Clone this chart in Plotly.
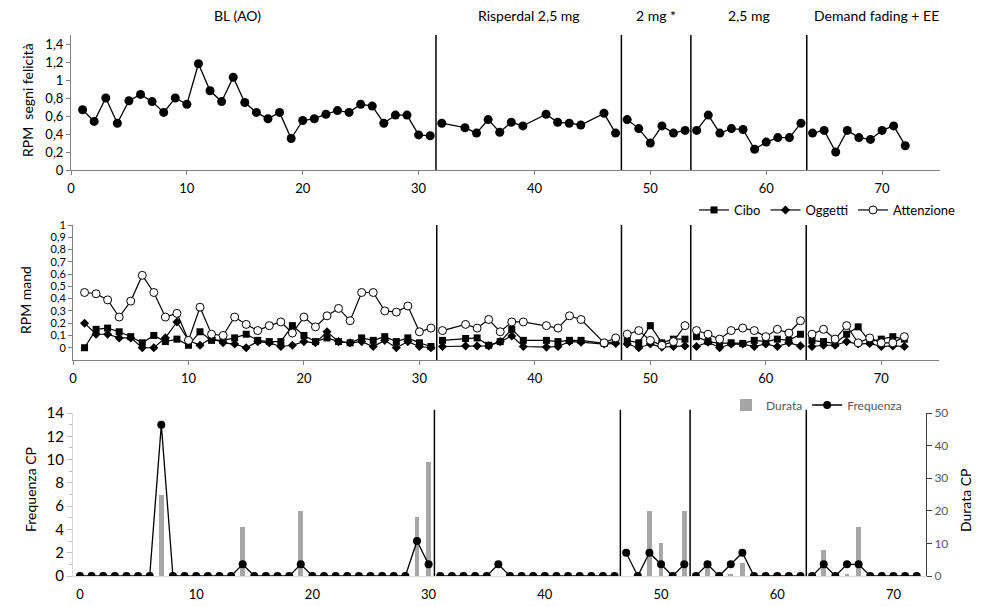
import plotly.graph_objects as go

W, H = 986, 607
OFF = 8  # page body margin of the rendered html
FONT = "Lato"

# ---------------- data ----------------
PHASE_NAMES = ["BL (AO)", "Risperdal 2,5 mg", "2 mg *", "2,5 mg", "Demand fading + EE"]
PHASE_LABEL_X = [14.4, 39.5, 50.5, 58.5, 69.5]
PHASE_BOUNDS = [31.5, 47.5, 53.5, 63.5]        # sessions (top / middle panels)
PHASE_BOUNDS_CP = [30.5, 46.5, 52.5, 62.5]     # index (bottom panel)

sess_bl = [1, 2, 3, 4, 5, 6, 7, 8, 9, 10, 11, 12, 13, 14, 15, 16, 17, 18, 19, 20,
           21, 22, 23, 24, 25, 26, 27, 28, 29, 30, 31]
sess_risp = [32, 34, 35, 36, 37, 38, 39, 41, 42, 43, 44, 46, 47]
sess_2mg = [48, 49, 50, 51, 52, 53]
sess_25 = [54, 55, 56, 57, 58, 59, 60, 61, 62, 63]
sess_df = [64, 65, 66, 67, 68, 69, 70, 71, 72]

fel_bl = [0.67, 0.54, 0.80, 0.52, 0.77, 0.84, 0.76, 0.64, 0.80, 0.73, 1.18, 0.88, 0.76,
          1.03, 0.75, 0.64, 0.57, 0.64, 0.35, 0.55, 0.57, 0.62, 0.66, 0.64, 0.73, 0.71,
          0.52, 0.61, 0.61, 0.39, 0.38]
fel_risp = [0.52, 0.47, 0.41, 0.56, 0.42, 0.53, 0.49, 0.62, 0.53, 0.52, 0.50, 0.63, 0.41]
fel_2mg = [0.56, 0.46, 0.30, 0.49, 0.41, 0.44]
fel_25 = [0.44, 0.61, 0.41, 0.46, 0.45, 0.23, 0.31, 0.36, 0.36, 0.52]
fel_df = [0.41, 0.44, 0.20, 0.44, 0.36, 0.34, 0.44, 0.49, 0.27]

cibo_bl = [0.00, 0.15, 0.16, 0.13, 0.09, 0.04, 0.10, 0.05, 0.07, 0.02, 0.13, 0.06, 0.06,
           0.08, 0.11, 0.06, 0.05, 0.05, 0.18, 0.10, 0.05, 0.08, 0.05, 0.04, 0.08, 0.06,
           0.09, 0.05, 0.08, 0.04, 0.01]
cibo_risp = [0.06, 0.075, 0.08, 0.02, 0.05, 0.15, 0.06, 0.06, 0.05, 0.06, 0.06, 0.035, 0.05]
cibo_2mg = [0.06, 0.04, 0.18, 0.04, 0.07, 0.07]
cibo_25 = [0.09, 0.05, 0.035, 0.04, 0.035, 0.06, 0.05, 0.07, 0.06, 0.11]
cibo_df = [0.06, 0.05, 0.035, 0.11, 0.17, 0.05, 0.07, 0.09, 0.07]

ogg_bl = [0.20, 0.11, 0.11, 0.08, 0.08, 0.00, 0.00, 0.08, 0.21, 0.06, 0.02, 0.08, 0.04,
          0.03, 0.00, 0.05, 0.04, 0.01, 0.02, 0.05, 0.04, 0.13, 0.05, 0.04, 0.05, 0.01,
          0.06, 0.00, 0.05, 0.01, 0.00]
ogg_risp = [0.01, 0.015, 0.015, 0.015, 0.05, 0.095, 0.01, 0.005, 0.01, 0.05, 0.045, 0.03, 0.035]
ogg_2mg = [0.03, 0.00, 0.03, 0.005, 0.01, 0.015]
ogg_25 = [0.01, 0.045, 0.00, 0.03, 0.03, 0.01, 0.03, 0.01, 0.04, 0.015]
ogg_df = [0.01, 0.02, 0.02, 0.05, 0.03, 0.035, 0.01, 0.015, 0.01]

att_bl = [0.45, 0.44, 0.39, 0.25, 0.38, 0.59, 0.45, 0.25, 0.28, 0.06, 0.33, 0.11, 0.10,
          0.25, 0.19, 0.14, 0.18, 0.21, 0.12, 0.25, 0.17, 0.26, 0.32, 0.22, 0.45, 0.45,
          0.30, 0.29, 0.34, 0.13, 0.16]
att_risp = [0.14, 0.19, 0.16, 0.23, 0.13, 0.21, 0.21, 0.18, 0.16, 0.26, 0.23, 0.04, 0.08]
att_2mg = [0.11, 0.14, 0.06, 0.02, 0.05, 0.18]
att_25 = [0.14, 0.11, 0.07, 0.14, 0.16, 0.14, 0.09, 0.15, 0.12, 0.22]
att_df = [0.11, 0.15, 0.07, 0.18, 0.04, 0.08, 0.04, 0.04, 0.09]

idx_bl = [0, 1, 2, 3, 4, 5, 6, 7, 8, 9, 10, 11, 12, 13, 14, 15, 16, 17, 18, 19, 20,
          21, 22, 23, 24, 25, 26, 27, 28, 29, 30]
idx_risp = [31, 32, 33, 34, 35, 36, 37, 38, 39, 40, 41, 42, 43, 44, 45, 46]
idx_2mg = [47, 48, 49, 50, 51, 52]
idx_25 = [53, 54, 55, 56, 57, 58, 59, 60, 61, 62]
idx_df = [63, 64, 65, 66, 67, 68, 69, 70, 71, 72]

freq_bl = [0, 0, 0, 0, 0, 0, 0, 13, 0, 0, 0, 0, 0, 0, 1, 0, 0, 0, 0, 1, 0, 0, 0, 0, 0,
           0, 0, 0, 0, 3, 1]
freq_risp = [0, 0, 0, 0, 0, 1, 0, 0, 0, 0, 0, 0, 0, 0, 0, 0]
freq_2mg = [2, 0, 2, 1, 0, 1]
freq_25 = [0, 1, 0, 1, 2, 0, 0, 0, 0, 0]
freq_df = [0, 1, 0, 1, 1, 0, 0, 0, 0, 0]

dur_bl = [0, 0, 0, 0, 0, 0, 0, 25, 0, 0, 0, 0, 0, 0, 15, 0, 0, 0, 0, 20, 0, 0, 0, 0, 0,
          0, 0, 0, 0, 18, 35]
dur_risp = [0, 0, 0, 0, 0, 0, 0, 0, 0, 0, 0, 0, 0, 0, 0, 0]
dur_2mg = [0, 0, 20, 10, 0, 20]
dur_25 = [0, 3, 0, 0.5, 4, 0, 0, 0, 0, 0]
dur_df = [0, 8, 0, 0.5, 15, 0, 0, 0, 0, 0]

X_TICKS = [0, 10, 20, 30, 40, 50, 60, 70]
Y1_TICKS = [0, 0.2, 0.4, 0.6, 0.8, 1.0, 1.2, 1.4]
Y2_TICKS = [0, 0.1, 0.2, 0.3, 0.4, 0.5, 0.6, 0.7, 0.8, 0.9, 1.0]
FREQ_TICKS = [0, 2, 4, 6, 8, 10, 12, 14]
DUR_TICKS = [0, 10, 20, 30, 40, 50]


def fx(px):
    return (px - OFF) / W


def fy(py):
    return 1 - (py - OFF) / H


def joined(xs_list, ys_list):
    xs, ys = [], []
    for xp, yp in zip(xs_list, ys_list):
        xs += list(xp) + [None]
        ys += list(yp) + [None]
    return xs, ys


SESS = [sess_bl, sess_risp, sess_2mg, sess_25, sess_df]
IDX = [idx_bl, idx_risp, idx_2mg, idx_25, idx_df]

fig = go.Figure()

x, y = joined(SESS, [fel_bl, fel_risp, fel_2mg, fel_25, fel_df])
fig.add_trace(go.Scatter(x=x, y=y, mode="lines+markers", xaxis="x", yaxis="y",
                         line=dict(color="black", width=1.3),
                         marker=dict(symbol="circle", size=9, color="black"),
                         showlegend=False, connectgaps=False))

x, y = joined(SESS, [cibo_bl, cibo_risp, cibo_2mg, cibo_25, cibo_df])
fig.add_trace(go.Scatter(x=x, y=y, name="Cibo", mode="lines+markers", xaxis="x2", yaxis="y2",
                         line=dict(color="black", width=1.2),
                         marker=dict(symbol="square", size=7, color="black"),
                         legend="legend", connectgaps=False))
x, y = joined(SESS, [ogg_bl, ogg_risp, ogg_2mg, ogg_25, ogg_df])
fig.add_trace(go.Scatter(x=x, y=y, name="Oggetti", mode="lines+markers", xaxis="x2", yaxis="y2",
                         line=dict(color="black", width=1.2),
                         marker=dict(symbol="diamond", size=7, color="black"),
                         legend="legend", connectgaps=False))
x, y = joined(SESS, [att_bl, att_risp, att_2mg, att_25, att_df])
fig.add_trace(go.Scatter(x=x, y=y, name="Attenzione", mode="lines+markers", xaxis="x2", yaxis="y2",
                         line=dict(color="black", width=1.2),
                         marker=dict(symbol="circle", size=8, color="white",
                                     line=dict(color="black", width=1)),
                         legend="legend", connectgaps=False))

xb = [v for p in IDX for v in p]
dur = dur_bl + dur_risp + dur_2mg + dur_25 + dur_df
fig.add_trace(go.Bar(x=xb, y=dur, name="Durata", xaxis="x3", yaxis="y3",
                     marker=dict(color="#a6a6a6", line=dict(width=0)), width=0.42,
                     legend="legend2"))
x, y = joined(IDX, [freq_bl, freq_risp, freq_2mg, freq_25, freq_df])
fig.add_trace(go.Scatter(x=x, y=y, name="Frequenza", mode="lines+markers", xaxis="x3", yaxis="y4",
                         line=dict(color="black", width=1.3),
                         marker=dict(symbol="circle", size=8, color="black"),
                         legend="legend2", connectgaps=False))

shapes = []
for b in PHASE_BOUNDS:
    for xr, yr in (("x", "y domain"), ("x2", "y2 domain")):
        shapes.append(dict(type="line", xref=xr, yref=yr, x0=b, x1=b, y0=0, y1=1,
                           line=dict(color="black", width=1.5)))
for b in PHASE_BOUNDS_CP:
    shapes.append(dict(type="line", xref="x3", yref="y3 domain", x0=b, x1=b, y0=0, y1=1.02,
                       line=dict(color="black", width=1.5)))

ann = []
for name, px in zip(PHASE_NAMES, PHASE_LABEL_X):
    ann.append(dict(text=name, x=px, xref="x", y=fy(15), yref="paper",
                    xanchor="center", yanchor="middle",
                    showarrow=False, font=dict(size=14, color="black", family=FONT)))
for text, px, py in (("RPM  segni felicità", 28, 100), ("RPM mand", 25, 300),
                     ("Frequenza CP", 30, 490), ("Durata CP", 965, 500)):
    ann.append(dict(text=text, x=fx(px), y=fy(py), xref="paper", yref="paper",
                    xanchor="center", yanchor="middle",
                    textangle=-90, showarrow=False,
                    font=dict(size=14, color="black", family=FONT)))

ax_common = dict(showgrid=False, zeroline=False, showline=True, linecolor="#808080",
                 linewidth=1, ticks="outside", ticklen=4, tickcolor="#808080",
                 automargin=False,
                 tickfont=dict(size=13, color="black", family=FONT))

fig.update_layout(
    width=W, height=H, margin=dict(l=0, r=0, t=0, b=0, pad=0, autoexpand=False),
    autosize=False,
    paper_bgcolor="white", plot_bgcolor="white",
    separators=",.",
    font=dict(family=FONT, color="black"),
    xaxis=dict(domain=[fx(71), fx(940)], range=[0, 75], anchor="y", tickvals=X_TICKS,
               ticklabelstandoff=2, **ax_common),
    yaxis=dict(domain=[fy(170), fy(35)], range=[0, 1.5], anchor="x",
               tickvals=Y1_TICKS, **ax_common),
    xaxis2=dict(domain=[fx(73), fx(939)], range=[0, 75], anchor="y2", tickvals=X_TICKS,
                ticklabelstandoff=2, **ax_common),
    yaxis2=dict(domain=[fy(360), fy(225)], range=[-0.1, 1.0], anchor="x2",
                tickvals=Y2_TICKS,
                **{**ax_common, "tickfont": dict(size=11, color="black", family=FONT)}),
    xaxis3=dict(domain=[fx(73), fx(926)], range=[-0.6, 72.8], anchor="y3", tickvals=X_TICKS,
                showgrid=False, zeroline=False, showline=True, linecolor="#d9d9d9",
                ticks="", ticklabelstandoff=6, automargin=False,
                tickfont=dict(size=13, color="black", family=FONT)),
    yaxis3=dict(domain=[fy(576), fy(413)], range=[0, 50], anchor="x3", side="right",
                tickvals=DUR_TICKS, showgrid=False, zeroline=False, showline=True,
                linecolor="#404040", ticks="outside", ticklen=5, tickcolor="#404040",
                automargin=False,
                tickfont=dict(size=12, color="#595959", family=FONT)),
    yaxis4=dict(range=[0, 14], overlaying="y3", anchor="x3", side="left",
                tickvals=FREQ_TICKS, showgrid=False, zeroline=False, showline=True,
                linecolor="#d9d9d9", ticks="outside", ticklen=5, tickcolor="#bfbfbf",
                automargin=False,
                minor=dict(ticks="outside", dtick=1, ticklen=3, tickcolor="#bfbfbf"),
                tickfont=dict(size=15, color="black", family=FONT)),
    legend=dict(orientation="h", x=fx(694), xanchor="left", y=fy(210), yanchor="middle",
                font=dict(size=13, color="black", family=FONT), bgcolor="rgba(0,0,0,0)",
                itemwidth=30, tracegroupgap=0),
    legend2=dict(orientation="h", x=fx(726), xanchor="left", y=fy(405), yanchor="middle",
                 font=dict(size=12, color="#595959", family=FONT), bgcolor="rgba(0,0,0,0)",
                 itemwidth=30),
    shapes=shapes, annotations=ann,
    bargap=0,
)

fig.write_html("out.html")
